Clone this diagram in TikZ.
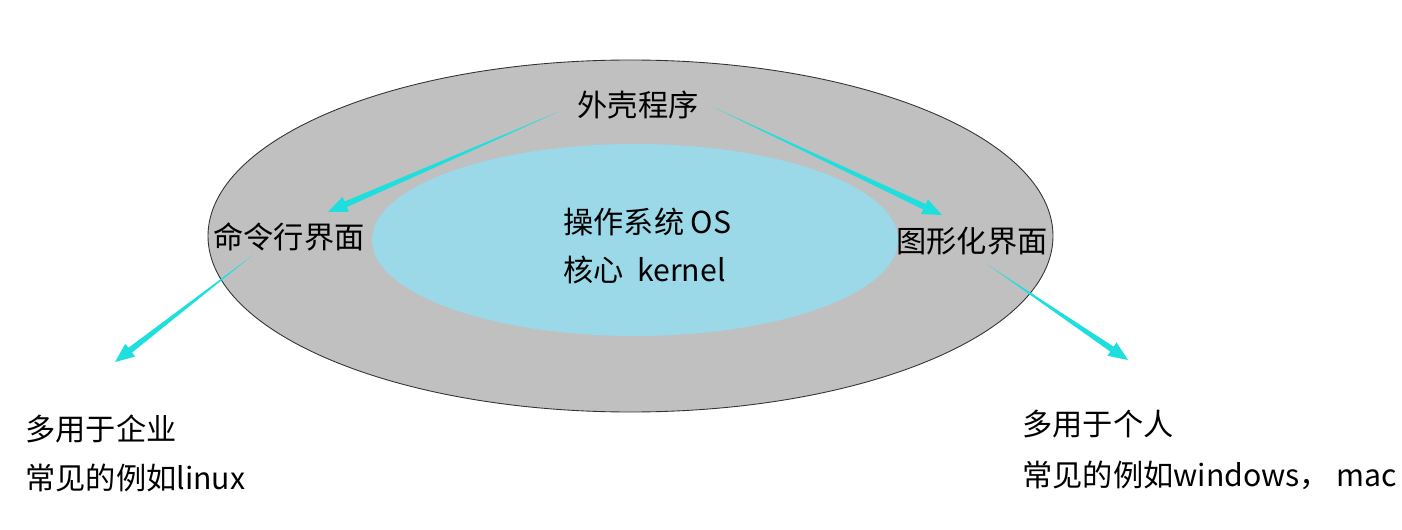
\documentclass[tikz,border=0pt]{standalone}
\usepackage{fontspec}
\setmainfont{Noto Sans CJK SC}
\usetikzlibrary{calc}

\definecolor{shellgray}{RGB}{192,192,192}
\definecolor{kernelblue}{RGB}{155,217,233}
\definecolor{arrowcyan}{RGB}{30,222,222}

% tapered arrow from #1 to #2
\newcommand\taperarrow[2]{%
  \path ($(#2)!11pt!(#1)$) coordinate (hb);
  \fill[arrowcyan] (#1) -- ($(hb)!1.7pt!90:(#2)$) -- ($(hb)!4.6pt!90:(#2)$)
    -- (#2) -- ($(hb)!4.6pt!-90:(#2)$) -- ($(hb)!1.7pt!-90:(#2)$) -- cycle;
}

\begin{document}
\begin{tikzpicture}[x=0.02cm,y=-0.02cm,
  lbl/.style={font=\fontsize{17.2}{20}\selectfont,inner sep=0pt},
  note/.style={lbl,anchor=west}]
\useasboundingbox (0,0) rectangle (1402,530);

\fill[shellgray,draw=black!80,line width=0.5pt] (630.5,236) ellipse [x radius=422.5,y radius=176];
\fill[kernelblue] (635,240) ellipse [x radius=263,y radius=96];

\node[lbl] (shell) at (638,105) {外壳程序};
\node[lbl] (cli) at (289,237) {命令行界面};
\node[lbl] (gui) at (972,241) {图形化界面};
\node[note] (os) at (563,222) {操作系统 OS};
\node[note] (kernel) at (563,270) {核心\ \ kernel};
\node[note] (ent) at (25,429) {多用于企业};
\node[note] (linux) at (25,478) {常见的例如linux};
\node[note] (pers) at (1022,424) {多用于个人};
\node[note] (win) at (1022,475) {常见的例如windows， mac};

\coordinate (s1) at (558,112);  \coordinate (t1) at (328,212);
\coordinate (s2) at (715,108);  \coordinate (t2) at (942,215);
\coordinate (s3) at (253,255);  \coordinate (t3) at (115,362);
\coordinate (s4) at (988,265);  \coordinate (t4) at (1128,360);
\foreach \i in {1,...,4} {
  \taperarrow{s\i}{t\i}
}
\end{tikzpicture}
\end{document}
